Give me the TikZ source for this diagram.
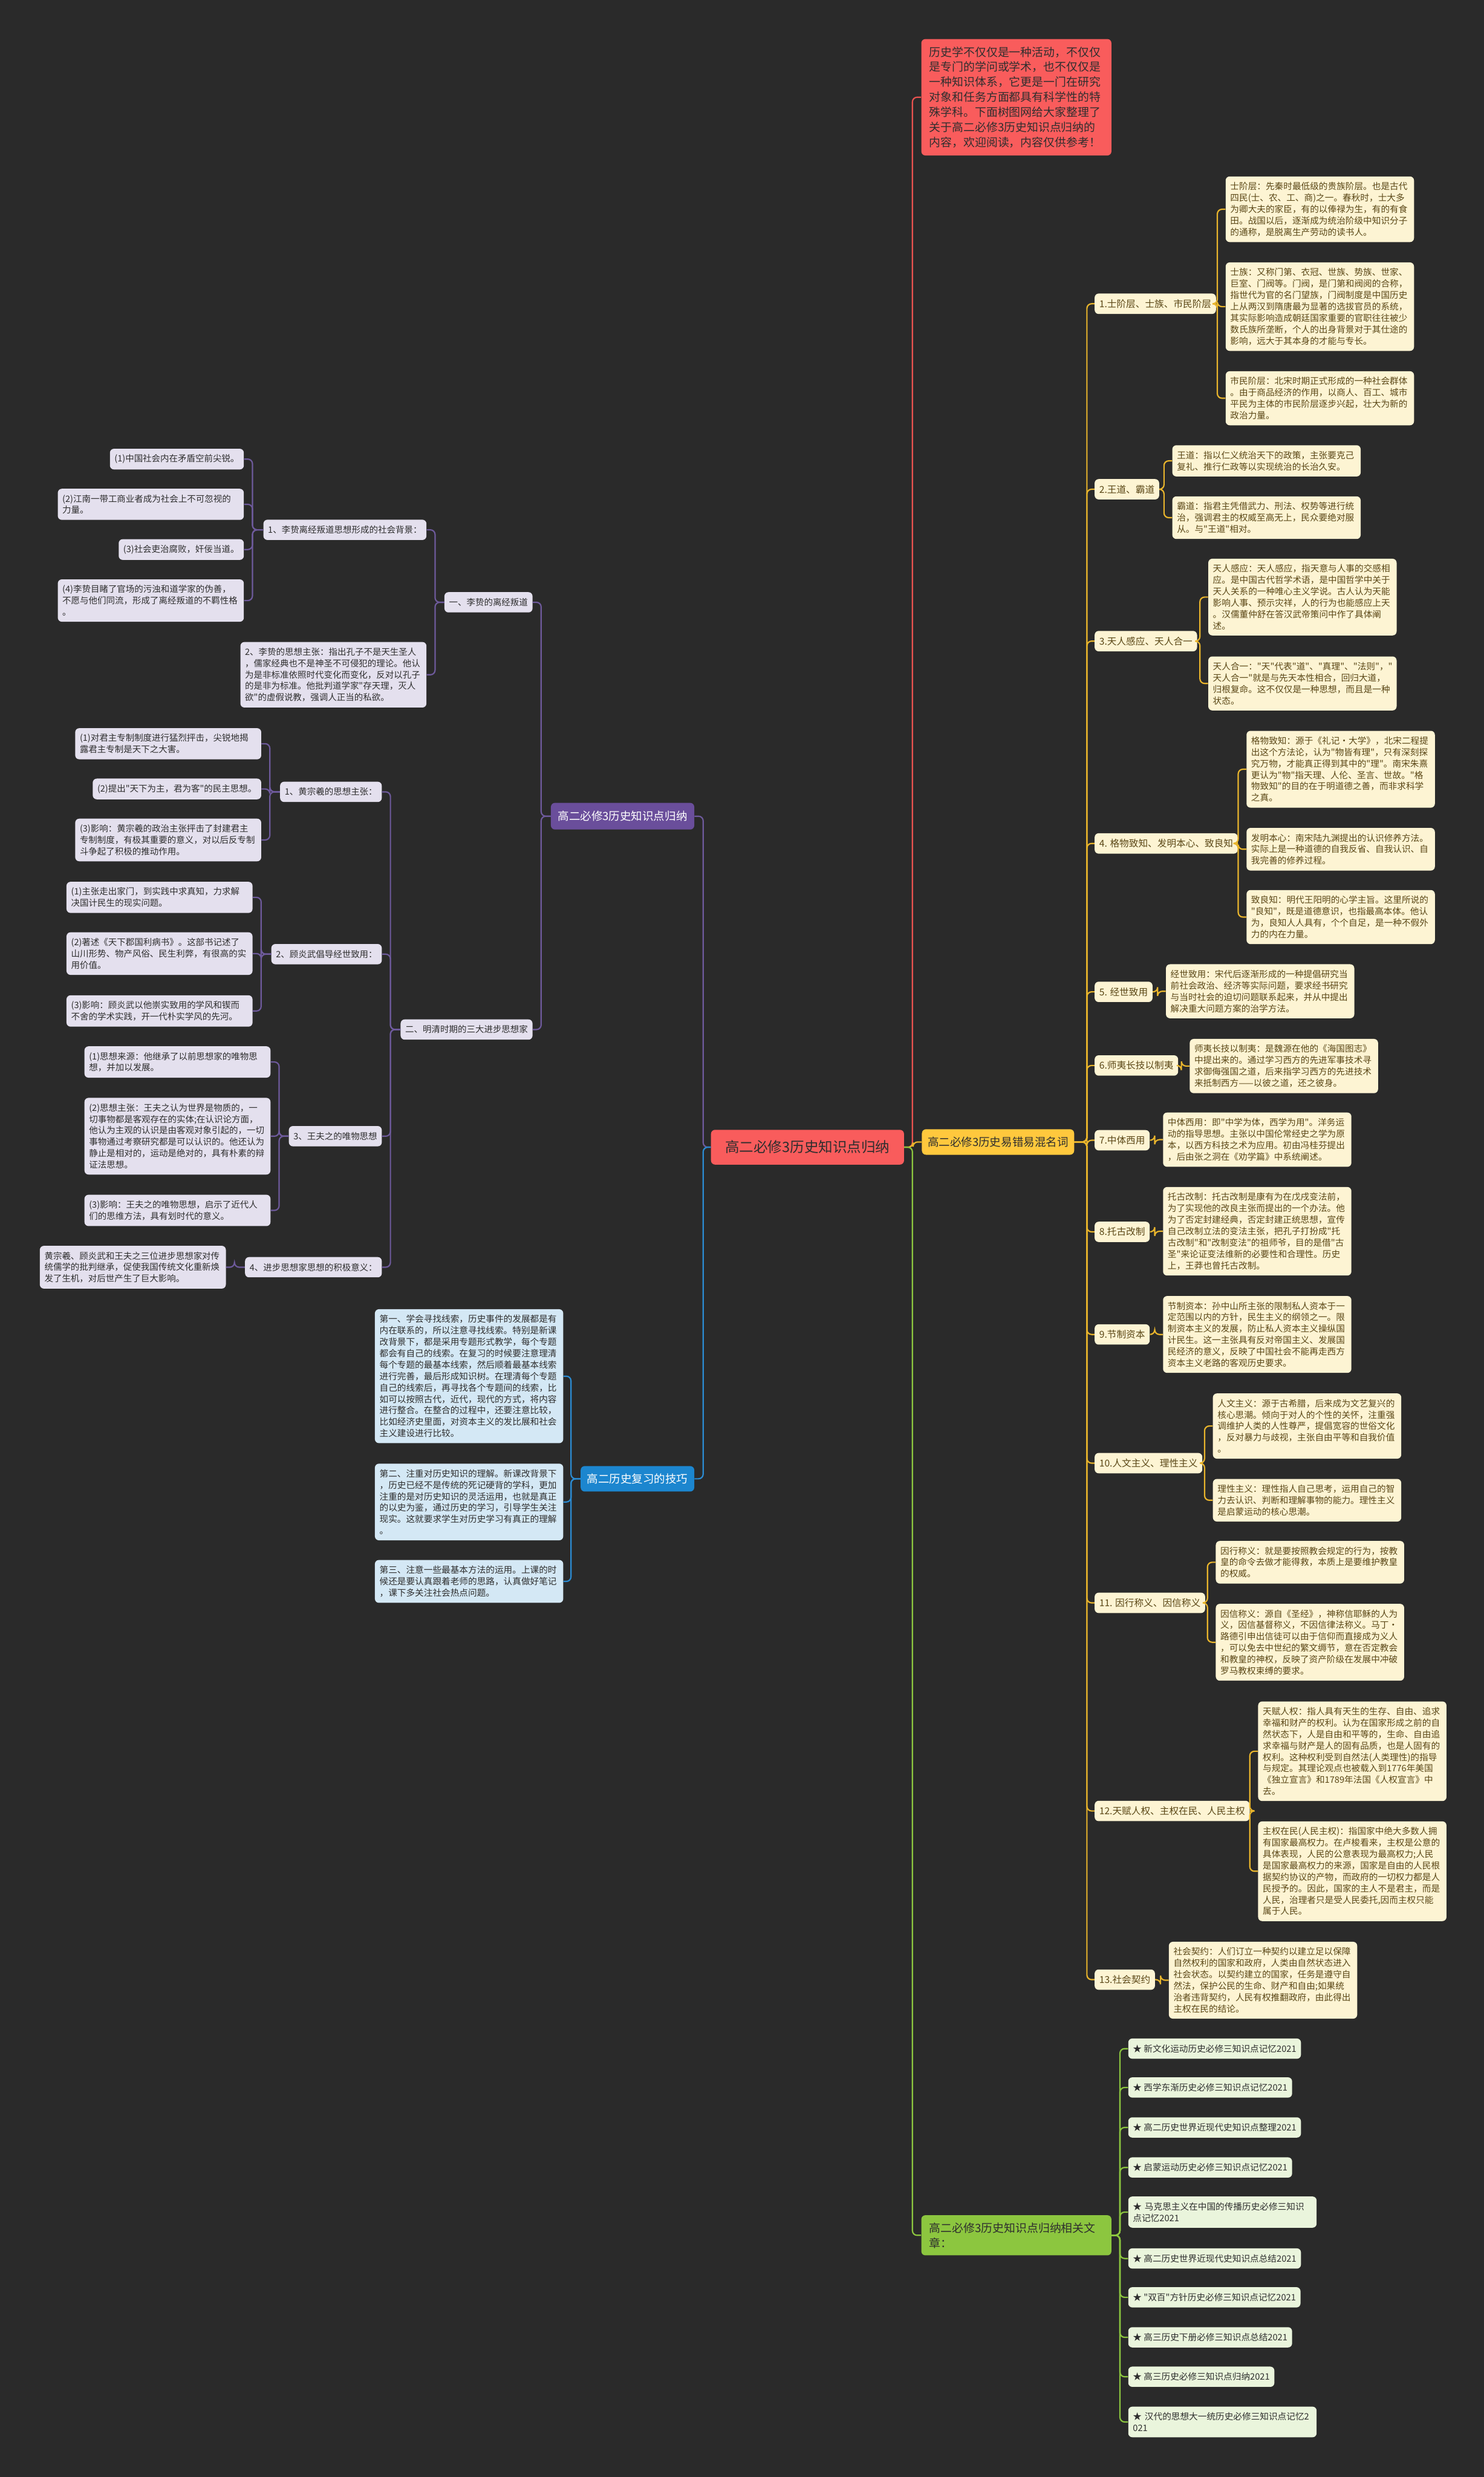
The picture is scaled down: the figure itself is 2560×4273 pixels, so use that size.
\documentclass[tikz,border=0pt]{standalone}
\usepackage{fontspec}
\newfontfamily\cjk{Noto Sans CJK SC}
\usepackage{xcolor}
\usetikzlibrary{positioning}
\definecolor{bgc}{HTML}{2A2A2A}
\definecolor{rootred}{HTML}{F95C5C}
\definecolor{redline}{HTML}{E8524F}
\definecolor{ygold}{HTML}{FFC83D}
\definecolor{yline}{HTML}{E9B52C}
\definecolor{ycream}{HTML}{FDF4D3}
\definecolor{ytext}{HTML}{5A4716}
\definecolor{ppl}{HTML}{6A4E9B}
\definecolor{pline}{HTML}{6E5A9C}
\definecolor{plav}{HTML}{E4E0EE}
\definecolor{blu}{HTML}{1C86CF}
\definecolor{bline}{HTML}{2B8BD2}
\definecolor{bpale}{HTML}{D4E8F5}
\definecolor{grn}{HTML}{8CC63F}
\definecolor{gpale}{HTML}{EAF5DC}
\definecolor{dtext}{HTML}{2E2E2E}

\begin{document}
\begin{tikzpicture}[x=0.02cm, y=-0.02cm,
        every node/.style={font=\cjk\fontsize{8.7pt}{11.2pt}\selectfont, rounded corners=0.14cm, inner xsep=0.16cm, inner ysep=0.2cm},
        root/.style={fill=rootred, text=dtext, font=\cjk\fontsize{14pt}{17pt}\selectfont, minimum width=6.66cm, minimum height=1.2cm},
        intro/.style={fill=rootred, text=dtext, font=\cjk\fontsize{11.2pt}{14.8pt}\selectfont, text width=6cm, align=left, inner xsep=0.28cm, inner ysep=0.26cm},
        ybranch/.style={fill=ygold, text=dtext, font=\cjk\fontsize{11pt}{13pt}\selectfont, minimum height=0.88cm, inner xsep=0.2cm},
        ylabel/.style={fill=ycream, text=ytext, font=\cjk\fontsize{9.3pt}{11pt}\selectfont, minimum height=0.7cm},
        ybox/.style={fill=ycream, text=ytext, text width=6.18cm, align=left},
        pbranch/.style={fill=ppl, text=white, font=\cjk\fontsize{11pt}{13pt}\selectfont, minimum height=0.92cm, inner xsep=0.24cm},
        plabel/.style={fill=plav, text=dtext, font=\cjk\fontsize{8.6pt}{11.2pt}\selectfont, minimum height=0.7cm},
        pbox/.style={plabel, text width=6.1cm, align=left},
        bbranch/.style={fill=blu, text=white, font=\cjk\fontsize{11pt}{13pt}\selectfont, minimum height=0.88cm, inner xsep=0.22cm},
        bbox/.style={fill=bpale, text=dtext, text width=6.18cm, align=left},
        gbranch/.style={fill=grn, text=dtext, font=\cjk\fontsize{11.2pt}{14.8pt}\selectfont, text width=6cm, align=left, inner xsep=0.28cm, inner ysep=0.25cm},
        gitem/.style={fill=gpale, text=dtext, minimum height=0.7cm},
        link/.style={line width=1.3pt, rounded corners=0.16cm},
        rl/.style={link, draw=redline},
        yl/.style={link, draw=yline},
        pl/.style={link, draw=pline},
        bl/.style={link, draw=bline},
        gl/.style={link, draw=grn}
    ]
    \useasboundingbox (0,0) rectangle (2560,4273);
    \fill[bgc] (0,0) rectangle (2560,4273);

    % centre and main branches
    \node[root] (root) at (1393,1979) {高二必修3历史知识点归纳};
    \node[intro, anchor=north west] (intro) at (1589,67) {历史学不仅仅是一种活动，不仅仅\\是专门的学问或学术，也不仅仅是\\一种知识体系，它更是一门在研究\\对象和任务方面都具有科学性的特\\殊学科。下面树图网给大家整理了\\关于高二必修3历史知识点归纳的\\内容，欢迎阅读，内容仅供参考！};
    \node[ybranch, anchor=west] (yb) at (1590,1970) {高二必修3历史易错易混名词};
    \node[gbranch, anchor=west] (gb) at (1589,3856) {高二必修3历史知识点归纳相关文\\章：};
    \node[pbranch, anchor=east] (pb) at (1198,1408) {高二必修3历史知识点归纳};
    \node[bbranch, anchor=east] (bb) at (1198,2551) {高二历史复习的技巧};

    % yellow branch
    \node[ylabel, anchor=west] (y1) at (1888,524) {1.士阶层、士族、市民阶层};
    \node[ylabel, anchor=west] (y2) at (1888,844) {2.王道、霸道};
    \node[ylabel, anchor=west] (y3) at (1888,1106) {3.天人感应、天人合一};
    \node[ylabel, anchor=west] (y4) at (1888,1455) {4. 格物致知、发明本心、致良知};
    \node[ylabel, anchor=west] (y5) at (1888,1711) {5. 经世致用};
    \node[ylabel, anchor=west] (y6) at (1888,1838) {6.师夷长技以制夷};
    \node[ylabel, anchor=west] (y7) at (1888,1967) {7.中体西用};
    \node[ylabel, anchor=west] (y8) at (1888,2125) {8.托古改制};
    \node[ylabel, anchor=west] (y9) at (1888,2302) {9.节制资本};
    \node[ylabel, anchor=west] (y10) at (1888,2524) {10.人文主义、理性主义};
    \node[ylabel, anchor=west] (y11) at (1888,2765) {11. 因行称义、因信称义};
    \node[ylabel, anchor=west] (y12) at (1888,3124) {12.天赋人权、主权在民、人民主权};
    \node[ylabel, anchor=west] (y13) at (1888,3415) {13.社会契约};

    \node[ybox, anchor=west] (y1a) at (2114,361) {士阶层：先秦时最低级的贵族阶层。也是古代\\四民(士、农、工、商)之一。春秋时，士大多\\为卿大夫的家臣，有的以俸禄为生，有的有食\\田。战国以后，逐渐成为统治阶级中知识分子\\的通称，是脱离生产劳动的读书人。};
    \node[ybox, anchor=west] (y1b) at (2114,529) {士族：又称门第、衣冠、世族、势族、世家、\\巨室、门阀等。门阀，是门第和阀阅的合称，\\指世代为官的名门望族，门阀制度是中国历史\\上从两汉到隋唐最为显著的选拔官员的系统，\\其实际影响造成朝廷国家重要的官职往往被少\\数氏族所垄断，个人的出身背景对于其仕途的\\影响，远大于其本身的才能与专长。};
    \node[ybox, anchor=west] (y1c) at (2114,687) {市民阶层：北宋时期正式形成的一种社会群体\\。由于商品经济的作用，以商人、百工、城市\\平民为主体的市民阶层逐步兴起，壮大为新的\\政治力量。};
    \node[ybox, anchor=west] (y2a) at (2022,795) {王道：指以仁义统治天下的政策，主张要克己\\复礼、推行仁政等以实现统治的长治久安。};
    \node[ybox, anchor=west] (y2b) at (2022,893) {霸道：指君主凭借武力、刑法、权势等进行统\\治，强调君主的权威至高无上，民众要绝对服\\从。与"王道"相对。};
    \node[ybox, anchor=west] (y3a) at (2084,1030) {天人感应：天人感应，指天意与人事的交感相\\应。是中国古代哲学术语，是中国哲学中关于\\天人关系的一种唯心主义学说。古人认为天能\\影响人事、预示灾祥，人的行为也能感应上天\\。汉儒董仲舒在答汉武帝策问中作了具体阐\\述。};
    \node[ybox, anchor=west] (y3b) at (2084,1179) {天人合一："天"代表"道"、"真理"、"法则"，"\\天人合一"就是与先天本性相合，回归大道，\\归根复命。这不仅仅是一种思想，而且是一种\\状态。};
    \node[ybox, anchor=west] (y4a) at (2150,1327) {格物致知：源于《礼记·大学》，北宋二程提\\出这个方法论，认为"物皆有理"，只有深刻探\\究万物，才能真正得到其中的"理"。南宋朱熹\\更认为"物"指天理、人伦、圣言、世故。"格\\物致知"的目的在于明道德之善，而非求科学\\之真。};
    \node[ybox, anchor=west] (y4b) at (2150,1465) {发明本心：南宋陆九渊提出的认识修养方法。\\实际上是一种道德的自我反省、自我认识、自\\我完善的修养过程。};
    \node[ybox, anchor=west] (y4c) at (2150,1582) {致良知：明代王阳明的心学主旨。这里所说的\\"良知"，既是道德意识，也指最高本体。他认\\为，良知人人具有，个个自足，是一种不假外\\力的内在力量。};
    \node[ybox, anchor=west] (y5a) at (2011,1710) {经世致用：宋代后逐渐形成的一种提倡研究当\\前社会政治、经济等实际问题，要求经书研究\\与当时社会的迫切问题联系起来，并从中提出\\解决重大问题方案的治学方法。};
    \node[ybox, anchor=west] (y6a) at (2052,1839) {师夷长技以制夷：是魏源在他的《海国图志》\\中提出来的。通过学习西方的先进军事技术寻\\求御侮强国之道，后来指学习西方的先进技术\\来抵制西方——以彼之道，还之彼身。};
    \node[ybox, anchor=west] (y7a) at (2006,1966) {中体西用：即"中学为体，西学为用"。洋务运\\动的指导思想。主张以中国伦常经史之学为原\\本，以西方科技之术为应用。初由冯桂芬提出\\，后由张之洞在《劝学篇》中系统阐述。};
    \node[ybox, anchor=west] (y8a) at (2006,2124) {托古改制：托古改制是康有为在戊戌变法前，\\为了实现他的改良主张而提出的一个办法。他\\为了否定封建经典，否定封建正统思想，宣传\\自己改制立法的变法主张，把孔子打扮成"托\\古改制"和"改制变法"的祖师爷，目的是借"古\\圣"来论证变法维新的必要性和合理性。历史\\上，王莽也曾托古改制。};
    \node[ybox, anchor=west] (y9a) at (2006,2302) {节制资本：孙中山所主张的限制私人资本于一\\定范围以内的方针，民生主义的纲领之一。限\\制资本主义的发展，防止私人资本主义操纵国\\计民生。这一主张具有反对帝国主义、发展国\\民经济的意义，反映了中国社会不能再走西方\\资本主义老路的客观历史要求。};
    \node[ybox, anchor=west] (y10a) at (2092,2460) {人文主义：源于古希腊，后来成为文艺复兴的\\核心思潮。倾向于对人的个性的关怀，注重强\\调维护人类的人性尊严，提倡宽容的世俗文化\\，反对暴力与歧视，主张自由平等和自我价值\\。};
    \node[ybox, anchor=west] (y10b) at (2092,2588) {理性主义：理性指人自己思考，运用自己的智\\力去认识、判断和理解事物的能力。理性主义\\是启蒙运动的核心思潮。};
    \node[ybox, anchor=west] (y11a) at (2097,2695) {因行称义：就是要按照教会规定的行为，按教\\皇的命令去做才能得救，本质上是要维护教皇\\的权威。};
    \node[ybox, anchor=west] (y11b) at (2097,2833) {因信称义：源自《圣经》，神称信耶稣的人为\\义，因信基督称义，不因信律法称义。马丁·\\路德引申出信徒可以由于信仰而直接成为义人\\，可以免去中世纪的繁文缛节，意在否定教会\\和教皇的神权，反映了资产阶级在发展中冲破\\罗马教权束缚的要求。};
    \node[ybox, anchor=west] (y12a) at (2170,3021) {天赋人权：指人具有天生的生存、自由、追求\\幸福和财产的权利。认为在国家形成之前的自\\然状态下，人是自由和平等的，生命、自由追\\求幸福与财产是人的固有品质，也是人固有的\\权利。这种权利受到自然法(人类理性)的指导\\与规定。其理论观点也被载入到1776年美国\\《独立宣言》和1789年法国《人权宣言》中\\去。};
    \node[ybox, anchor=west] (y12b) at (2170,3228) {主权在民(人民主权)：指国家中绝大多数人拥\\有国家最高权力。在卢梭看来，主权是公意的\\具体表现，人民的公意表现为最高权力;人民\\是国家最高权力的来源，国家是自由的人民根\\据契约协议的产物，而政府的一切权力都是人\\民授予的。因此，国家的主人不是君主，而是\\人民，治理者只是受人民委托,因而主权只能\\属于人民。};
    \node[ybox, anchor=west] (y13a) at (2016,3416) {社会契约：人们订立一种契约以建立足以保障\\自然权利的国家和政府，人类由自然状态进入\\社会状态。以契约建立的国家，任务是遵守自\\然法，保护公民的生命、财产和自由;如果统\\治者违背契约，人民有权推翻政府，由此得出\\主权在民的结论。};

    % green branch
    \node[gitem, anchor=west] (g1) at (1946,3534) {★ 新文化运动历史必修三知识点记忆2021};
    \node[gitem, anchor=west] (g2) at (1946,3601) {★ 西学东渐历史必修三知识点记忆2021};
    \node[gitem, anchor=west] (g3) at (1946,3670) {★ 高二历史世界近现代史知识点整理2021};
    \node[gitem, anchor=west] (g4) at (1946,3739) {★ 启蒙运动历史必修三知识点记忆2021};
    \node[gitem, anchor=west, text width=6.18cm, align=left] (g5) at (1946,3816) {★ 马克思主义在中国的传播历史必修三知识\\点记忆2021};
    \node[gitem, anchor=west] (g6) at (1946,3896) {★ 高二历史世界近现代史知识点总结2021};
    \node[gitem, anchor=west] (g7) at (1946,3963) {★ "双百"方针历史必修三知识点记忆2021};
    \node[gitem, anchor=west] (g8) at (1946,4032) {★ 高三历史下册必修三知识点总结2021};
    \node[gitem, anchor=west] (g9) at (1946,4100) {★ 高三历史必修三知识点归纳2021};
    \node[gitem, anchor=west, text width=6.18cm, align=left] (g10) at (1946,4178) {★ 汉代的思想大一统历史必修三知识点记忆2\\021};

    % purple branch
    \node[plabel, anchor=east] (p1) at (919,1039) {一、李贽的离经叛道};
    \node[plabel, anchor=east] (p2) at (919,1776) {二、明清时期的三大进步思想家};
    \node[plabel, anchor=east] (p1a) at (736,914) {1、李贽离经叛道思想形成的社会背景：};
    \node[pbox, anchor=east] (p1b) at (736,1164) {2、李贽的思想主张：指出孔子不是天生圣人\\，儒家经典也不是神圣不可侵犯的理论。他认\\为是非标准依照时代变化而变化，反对以孔子\\的是非为标准。他批判道学家"存天理，灭人\\欲"的虚假说教，强调人正当的私欲。};
    \node[plabel, anchor=east] (p1a1) at (421,792) {(1)中国社会内在矛盾空前尖锐。};
    \node[pbox, anchor=east] (p1a2) at (421,870) {(2)江南一带工商业者成为社会上不可忽视的\\力量。};
    \node[plabel, anchor=east] (p1a3) at (421,948) {(3)社会吏治腐败，奸佞当道。};
    \node[pbox, anchor=east] (p1a4) at (421,1036) {(4)李贽目睹了官场的污浊和道学家的伪善，\\不愿与他们同流，形成了离经叛道的不羁性格\\。};
    \node[plabel, anchor=east] (p2a) at (659,1366) {1、黄宗羲的思想主张：};
    \node[plabel, anchor=east] (p2b) at (659,1646) {2、顾炎武倡导经世致用：};
    \node[plabel, anchor=east] (p2c) at (659,1960) {3、王夫之的唯物思想};
    \node[plabel, anchor=east] (p2d) at (659,2186) {4、进步思想家思想的积极意义：};
    \node[pbox, anchor=east] (p2a1) at (451,1283) {(1)对君主专制制度进行猛烈抨击，尖锐地揭\\露君主专制是天下之大害。};
    \node[plabel, anchor=east] (p2a2) at (451,1361) {(2)提出"天下为主，君为客"的民主思想。};
    \node[pbox, anchor=east] (p2a3) at (451,1449) {(3)影响：黄宗羲的政治主张抨击了封建君主\\专制制度，有极其重要的意义，对以后反专制\\斗争起了积极的推动作用。};
    \node[pbox, anchor=east] (p2b1) at (436,1548) {(1)主张走出家门，到实践中求真知，力求解\\决国计民生的现实问题。};
    \node[pbox, anchor=east] (p2b2) at (436,1645) {(2)著述《天下郡国利病书》。这部书记述了\\山川形势、物产风俗、民生利弊，有很高的实\\用价值。};
    \node[pbox, anchor=east] (p2b3) at (436,1744) {(3)影响：顾炎武以他崇实致用的学风和锲而\\不舍的学术实践，开一代朴实学风的先河。};
    \node[pbox, anchor=east] (p2c1) at (467,1832) {(1)思想来源：他继承了以前思想家的唯物思\\想，并加以发展。};
    \node[pbox, anchor=east] (p2c2) at (467,1960) {(2)思想主张：王夫之认为世界是物质的，一\\切事物都是客观存在的实体;在认识论方面，\\他认为主观的认识是由客观对象引起的，一切\\事物通过考察研究都是可以认识的。他还认为\\静止是相对的，运动是绝对的，具有朴素的辩\\证法思想。};
    \node[pbox, anchor=east] (p2c3) at (467,2088) {(3)影响：王夫之的唯物思想，启示了近代人\\们的思维方法，具有划时代的意义。};
    \node[pbox, anchor=east] (p2d1) at (390,2186) {黄宗羲、顾炎武和王夫之三位进步思想家对传\\统儒学的批判继承，促使我国传统文化重新焕\\发了生机，对后世产生了巨大影响。};

    % blue branch
    \node[bbox, anchor=east] (b1) at (972,2374) {第一、学会寻找线索，历史事件的发展都是有\\内在联系的，所以注意寻找线索。特别是新课\\改背景下，都是采用专题形式教学，每个专题\\都会有自己的线索。在复习的时候要注意理清\\每个专题的最基本线索，然后顺着最基本线索\\进行完善，最后形成知识树。在理清每个专题\\自己的线索后，再寻找各个专题间的线索，比\\如可以按照古代，近代，现代的方式，将内容\\进行整合。在整合的过程中，还要注意比较，\\比如经济史里面，对资本主义的发比展和社会\\主义建设进行比较。};
    \node[bbox, anchor=east] (b2) at (972,2591) {第二、注重对历史知识的理解。新课改背景下\\，历史已经不是传统的死记硬背的学科，更加\\注重的是对历史知识的灵活运用，也就是真正\\的以史为鉴，通过历史的学习，引导学生关注\\现实。这就要求学生对历史学习有真正的理解\\。};
    \node[bbox, anchor=east] (b3) at (972,2728) {第三、注意一些最基本方法的运用。上课的时\\候还是要认真跟着老师的思路，认真做好笔记\\，课下多关注社会热点问题。};

    % connectors
    \draw[rl] (root.east) -| ([xshift=-0.3cm]intro.west) -- (intro.west);
    \draw[yl] (root.east) -| ([xshift=-0.3cm]yb.west) -- (yb.west);
    \draw[gl] (root.east) -| ([xshift=-0.3cm]gb.west) -- (gb.west);
    \draw[pl] (root.west) -| ([xshift=0.3cm]pb.east) -- (pb.east);
    \draw[bl] (root.west) -| ([xshift=0.3cm]bb.east) -- (bb.east);
    \foreach \n in {1,...,13}
        \draw[yl] (yb.east) -| ([xshift=-0.26cm]y\n.west) -- (y\n.west);
    \foreach \p/\c in {y1/y1a, y1/y1b, y1/y1c, y2/y2a, y2/y2b, y3/y3a, y3/y3b, y4/y4a, y4/y4b, y4/y4c, y5/y5a, y6/y6a, y7/y7a, y8/y8a, y9/y9a, y10/y10a, y10/y10b, y11/y11a, y11/y11b, y12/y12a, y12/y12b, y13/y13a}
        \draw[yl] (\p.east) -| ([xshift=-0.28cm]\c.west) -- (\c.west);
    \foreach \n in {1,...,10}
        \draw[gl] (gb.east) -| ([xshift=-0.28cm]g\n.west) -- (g\n.west);
    \foreach \p/\c in {pb/p1, pb/p2, p1/p1a, p1/p1b, p2/p2a, p2/p2b, p2/p2c, p2/p2d, p1a/p1a1, p1a/p1a2, p1a/p1a3, p1a/p1a4, p2a/p2a1, p2a/p2a2, p2a/p2a3, p2b/p2b1, p2b/p2b2, p2b/p2b3, p2c/p2c1, p2c/p2c2, p2c/p2c3, p2d/p2d1}
        \draw[pl] (\p.west) -| ([xshift=0.29cm]\c.east) -- (\c.east);
    \foreach \c in {b1,b2,b3}
        \draw[bl] (bb.west) -| ([xshift=0.26cm]\c.east) -- (\c.east);
\end{tikzpicture}
\end{document}
